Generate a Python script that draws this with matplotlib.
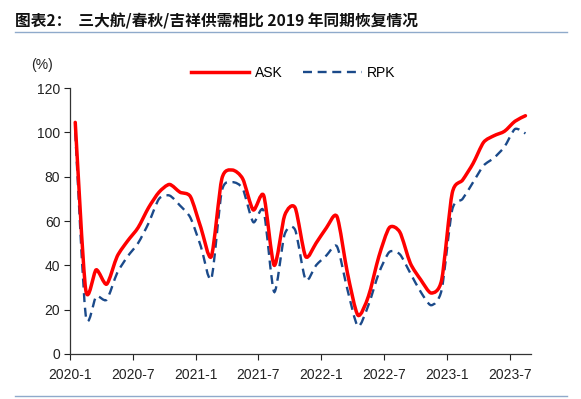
import numpy as np
import matplotlib
matplotlib.use('Agg')
import matplotlib.pyplot as plt
from matplotlib.path import Path
from matplotlib.patches import PathPatch
from matplotlib.lines import Line2D

plt.rcParams['font.family'] = ['Liberation Sans', 'DejaVu Sans']

# monthly data 2020-1 .. 2023-8, % of same month in 2019
months = [f'{y}-{m}' for y in (2020, 2021, 2022, 2023) for m in range(1, 13)][:44]
ask = [104.5, 29, 38, 31.5, 44, 51, 57, 66, 73, 76.5, 73, 71,
       57, 44, 79, 83, 79, 65, 71.5, 40, 62.5, 66, 44, 50,
       57, 62, 36.5, 17.5, 26, 44, 57, 55, 41, 33.5, 27.5, 33.5,
       72.5, 78.5, 86, 95.5, 98.5, 100.5, 105, 107.5]
rpk = [100, 17.5, 26, 24.5, 36.5, 44, 50, 59, 70, 71.5, 67, 61.5,
       48.5, 34, 73.5, 77.5, 74.5, 59.5, 64.5, 28, 54, 56, 33.5, 40,
       44.5, 48.5, 29, 12.5, 22, 36.5, 46, 45, 36.5, 28, 22, 29,
       65, 70, 77.5, 85, 88.5, 93.5, 101.5, 99.5]
tick_labels = ['2020-1', '2020-7', '2021-1', '2021-7', '2022-1', '2022-7', '2023-1', '2023-7']


def smooth_path(xs, ys, k=1 / 8):
    # bezier curve through every data point (like Excel's smoothed line)
    pts = np.column_stack([xs, ys])
    verts = [pts[0]]
    codes = [Path.MOVETO]
    n = len(pts)
    for i in range(n - 1):
        p0 = pts[max(i - 1, 0)]
        p1 = pts[i]
        p2 = pts[i + 1]
        p3 = pts[min(i + 2, n - 1)]
        verts += [p1 + (p2 - p0) * k, p2 - (p3 - p1) * k, p2]
        codes += [Path.CURVE4] * 3
    return Path(verts, codes)


fig = plt.figure(figsize=(5.81, 3.99), dpi=100)
ax = fig.add_axes([0.1205, 0.1128, 0.7929, 0.6666])

x = np.arange(len(months)) + 0.5
red = '#FF0000'
blue = '#1B4A8A'
ax.add_patch(PathPatch(smooth_path(x, ask), fill=False, edgecolor=red, lw=2.5,
                       capstyle='round', joinstyle='round', zorder=3))
ax.add_patch(PathPatch(smooth_path(x, rpk), fill=False, edgecolor=blue, lw=1.7,
                       linestyle=(0, (3.8, 2.4)), zorder=2))

ax.set_xlim(0, 44)
ax.set_ylim(0, 120)
ax.set_yticks(range(0, 121, 20))
ax.set_xticks(range(0, 44, 6))
ax.set_xticklabels(tick_labels)
ax.tick_params(direction='out', length=4, width=0.8, labelsize=10, colors='#222222', pad=3)
ax.tick_params(axis='x', pad=6)
for s in ('top', 'right'):
    ax.spines[s].set_visible(False)
for s in ('left', 'bottom'):
    ax.spines[s].set_color('#333333')
    ax.spines[s].set_linewidth(0.9)

fig.text(31 / 581, 1 - 65 / 399, '(%)', fontsize=10, va='center', ha='left', color='#222222')

handles = [Line2D([], [], color=red, lw=2.5),
           Line2D([], [], color=blue, lw=1.7, linestyle=(0, (3.8, 2.4)))]
fig.legend(handles, ['ASK', 'RPK'], loc='center', bbox_to_anchor=(0.505, 0.817), ncol=2,
           frameon=False, fontsize=10, handlelength=4.2, handletextpad=0.4, columnspacing=1.5)

fig.text(15 / 581, 1 - 21 / 399, '图表2：  三大航/春秋/吉祥供需相比 2019 年同期恢复情况',
         family=['Noto Sans CJK SC', 'DejaVu Sans'], fontweight='bold', fontsize=11.3,
         va='center', ha='left', color='#111111')
fig.add_artist(Line2D([15 / 581, 567 / 581], [1 - 32 / 399] * 2, color='#8FAACB', lw=1.0))
fig.add_artist(Line2D([15 / 581, 567 / 581], [1 - 396 / 399] * 2, color='#8FAACB', lw=1.0))

fig.savefig('out.png', dpi=100)
